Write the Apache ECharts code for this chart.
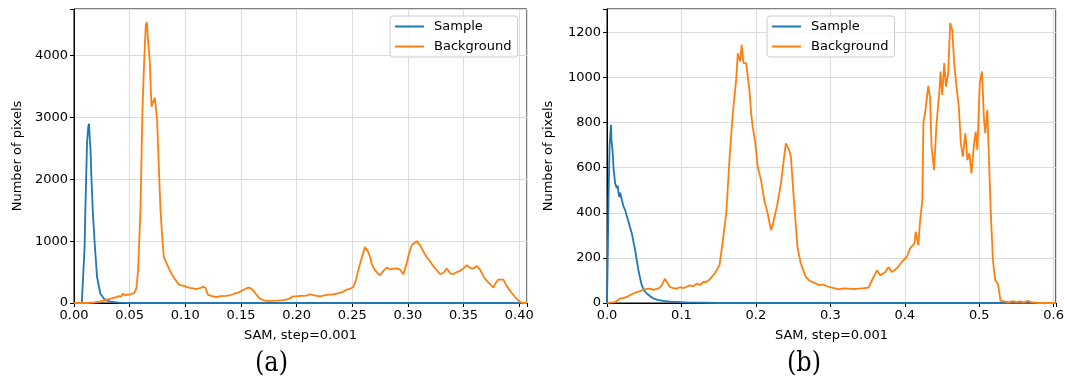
<!DOCTYPE html>
<html>
<head>
<meta charset="utf-8">
<script src="https://cdn.jsdelivr.net/npm/echarts@6/dist/echarts.min.js"></script>
<style>
html,body{margin:0;padding:0;background:#fff;}
#c{width:1067px;height:383px;}
</style>
</head>
<body>
<div id="c"></div>
<script>
// ---------- Data (a) ----------
const aSampleX = [0, 0.007, 0.0081, 0.0095, 0.0102, 0.0117, 0.0128, 0.0135, 0.0142, 0.0148, 0.0156, 0.017, 0.0186, 0.0207, 0.0237, 0.027, 0.029, 0.033, 0.040, 0.050, 0.407];
const aSampleY = [0, 0, 30, 900, 1500, 2590, 2850, 2900, 2650, 2500, 2040, 1450, 960, 420, 150, 70, 44, 20, 5, 0, 0];

const aBgX = [0, 0.012, 0.018, 0.024, 0.030, 0.034, 0.038, 0.040, 0.042, 0.044, 0.046, 0.048, 0.050, 0.052, 0.054, 0.056, 0.0576, 0.0597, 0.0615, 0.063, 0.0645, 0.0655, 0.0665, 0.068, 0.0696, 0.071, 0.0726, 0.0747, 0.076, 0.0777, 0.0795, 0.0807, 0.083, 0.086, 0.089, 0.092, 0.095, 0.098, 0.101, 0.104, 0.107, 0.110, 0.113, 0.116, 0.118, 0.1205, 0.124, 0.128, 0.132, 0.136, 0.140, 0.144, 0.148, 0.152, 0.1565, 0.159, 0.161, 0.164, 0.167, 0.170, 0.173, 0.178, 0.183, 0.188, 0.191, 0.194, 0.197, 0.201, 0.205, 0.209, 0.212, 0.216, 0.221, 0.225, 0.229, 0.233, 0.237, 0.241, 0.245, 0.248, 0.251, 0.2535, 0.2554, 0.258, 0.2614, 0.2625, 0.2644, 0.2659, 0.2674, 0.2704, 0.273, 0.275, 0.278, 0.281, 0.284, 0.2869, 0.290, 0.2929, 0.2959, 0.2989, 0.301, 0.3034, 0.3079, 0.3109, 0.314, 0.3169, 0.320, 0.3229, 0.326, 0.3289, 0.332, 0.3349, 0.338, 0.3408, 0.344, 0.3468, 0.350, 0.3529, 0.356, 0.3588, 0.362, 0.3648, 0.368, 0.3709, 0.374, 0.3768, 0.379, 0.3813, 0.3858, 0.388, 0.3903, 0.393, 0.3963, 0.399, 0.4008, 0.403, 0.407];
const aBgY = [0, 0, 8, 25, 55, 75, 95, 110, 100, 150, 120, 140, 135, 150, 160, 230, 530, 1500, 3120, 3900, 4500, 4540, 4250, 3930, 3175, 3250, 3320, 2960, 2300, 1500, 1000, 745, 650, 530, 430, 350, 290, 280, 260, 245, 235, 225, 240, 260, 250, 130, 110, 97, 110, 115, 125, 150, 170, 210, 249, 235, 205, 130, 71, 45, 33, 35, 38, 45, 55, 75, 108, 110, 115, 120, 141, 125, 108, 125, 135, 141, 155, 175, 217, 230, 260, 380, 530, 700, 907, 880, 826, 745, 638, 530, 480, 449, 520, 573, 545, 557, 560, 541, 465, 638, 800, 935, 1000, 935, 830, 745, 670, 595, 530, 465, 490, 557, 480, 465, 500, 519, 560, 611, 570, 557, 600, 541, 430, 356, 300, 249, 330, 379, 379, 300, 233, 170, 97, 45, 16, 0, 0];

// ---------- Data (b) ----------
const bSampleX = [0, 0.001, 0.002, 0.0035, 0.0053, 0.006, 0.007, 0.008, 0.0089, 0.010, 0.011, 0.013, 0.0145, 0.0155, 0.0165, 0.0175, 0.020, 0.022, 0.0244, 0.027, 0.0289, 0.031, 0.0334, 0.0356, 0.0378, 0.040, 0.0422, 0.0445, 0.0467, 0.050, 0.0534, 0.058, 0.0622, 0.068, 0.0756, 0.085, 0.098, 0.110, 0.130, 0.150, 0.603];
const bSampleY = [0, 200, 456, 700, 790, 720, 693, 650, 590, 560, 530, 510, 520, 486, 470, 490, 456, 430, 412, 380, 360, 335, 308, 270, 234, 190, 145, 110, 79, 55, 42, 30, 20, 14, 9, 6, 4, 2, 1, 0, 0];

const bBgX = [0, 0.005, 0.011, 0.0178, 0.022, 0.0267, 0.031, 0.0355, 0.040, 0.0445, 0.050, 0.0578, 0.062, 0.0689, 0.073, 0.0778, 0.080, 0.0845, 0.089, 0.0935, 0.098, 0.1025, 0.1068, 0.111, 0.116, 0.1202, 0.125, 0.129, 0.1335, 0.138, 0.1446, 0.148, 0.1513, 0.1557, 0.1602, 0.1646, 0.169, 0.1735, 0.1757, 0.1789, 0.181, 0.1833, 0.1869, 0.1913, 0.1936, 0.1957, 0.1993, 0.2024, 0.2069, 0.2113, 0.2158, 0.2203, 0.2225, 0.2247, 0.2291, 0.2336, 0.238, 0.2403, 0.2425, 0.2447, 0.247, 0.2514, 0.2558, 0.2603, 0.267, 0.2715, 0.2758, 0.280, 0.2848, 0.290, 0.2981, 0.305, 0.3115, 0.318, 0.3248, 0.331, 0.3382, 0.345, 0.3515, 0.356, 0.3626, 0.3672, 0.3738, 0.3782, 0.3826, 0.3893, 0.396, 0.4027, 0.4072, 0.413, 0.4147, 0.4183, 0.4206, 0.4236, 0.425, 0.428, 0.4316, 0.4339, 0.436, 0.4393, 0.4427, 0.4463, 0.448, 0.4503, 0.453, 0.4553, 0.4583, 0.461, 0.4637, 0.4664, 0.4694, 0.4726, 0.4753, 0.478, 0.4814, 0.4841, 0.4868, 0.4895, 0.4931, 0.4953, 0.4975, 0.5007, 0.5037, 0.5064, 0.5081, 0.5108, 0.5127, 0.5154, 0.5184, 0.5215, 0.5251, 0.5287, 0.530, 0.535, 0.540, 0.545, 0.550, 0.555, 0.560, 0.565, 0.570, 0.575, 0.580, 0.603];
const bBgY = [0, 2, 4, 20, 22, 27, 35, 42, 48, 53, 60, 64, 58, 64, 75, 108, 95, 71, 66, 64, 70, 66, 71, 78, 74, 86, 80, 92, 93, 105, 131, 150, 170, 280, 397, 640, 842, 990, 1108, 1071, 1145, 1064, 1064, 945, 842, 782, 708, 604, 545, 456, 397, 323, 345, 353, 442, 531, 649, 708, 700, 679, 649, 442, 249, 175, 116, 100, 93, 88, 79, 82, 71, 66, 60, 65, 64, 62, 64, 66, 68, 101, 145, 123, 138, 160, 138, 153, 182, 204, 242, 264, 316, 256, 367, 456, 800, 860, 963, 915, 693, 590, 797, 930, 1027, 923, 1064, 960, 1019, 1242, 1212, 1064, 960, 871, 708, 649, 753, 634, 664, 575, 708, 760, 679, 975, 1027, 812, 753, 856, 679, 412, 190, 101, 86, 9, 2, 6, 3, 8, 4, 7, 3, 9, 4, 2, 0, 0];

const seriesNames = ['Sample', 'Background'];
const xTitle = 'SAM, step=0.001';
const yTitle = 'Number of pixels';
const panelLabels = ['(a)', '(b)'];

function pairs(xs, ys) { return xs.map((x, i) => [x, ys[i]]); }

const BLUE = '#1f77b4', ORANGE = '#ff7f0e';
const FONT = 'DejaVu Sans';

function xAx(gi, max, step, dec) {
  return {
    type: 'value', gridIndex: gi, min: 0, max: max, interval: step,
    name: xTitle, nameLocation: 'middle', nameGap: 26,
    nameTextStyle: {fontFamily: FONT, fontSize: 13, color: '#000'},
    axisLine: {show: true, onZero: false, lineStyle: {color: '#000', width: 1}},
    axisTick: {show: true, length: 4, lineStyle: {color: '#000'}},
    axisLabel: {fontFamily: FONT, fontSize: 13, color: '#000', margin: 6,
      formatter: v => Math.abs(v / step - Math.round(v / step)) < 1e-6 ? v.toFixed(dec) : ''},
    splitLine: {show: true, lineStyle: {color: '#dcdcdc', width: 1}}
  };
}
function yAx(gi, max, step, gap) {
  return {
    type: 'value', gridIndex: gi, min: 0, max: max, interval: step,
    name: yTitle, nameLocation: 'middle', nameGap: gap, nameRotate: 90,
    nameTextStyle: {fontFamily: FONT, fontSize: 13, color: '#000'},
    axisLine: {show: true, lineStyle: {color: '#000', width: 1}},
    axisTick: {show: true, length: 4, lineStyle: {color: '#000'}},
    axisLabel: {fontFamily: FONT, fontSize: 13, color: '#000', margin: 6,
      formatter: v => (v % step === 0) ? String(v) : ''},
    splitLine: {show: true, lineStyle: {color: '#dcdcdc', width: 1}}
  };
}
function line(name, data, color, gi) {
  return {
    type: 'line', name: name, data: data, xAxisIndex: gi, yAxisIndex: gi,
    showSymbol: false, symbol: 'none', animation: false,
    lineStyle: {color: color, width: 1.8}, itemStyle: {color: color}
  };
}
function legend(left) {
  return {
    data: seriesNames, orient: 'vertical', left: left, top: 16,
    icon: 'rect', itemWidth: 29, itemHeight: 2, itemGap: 5,
    padding: [3, 6, 3, 5],
    borderColor: '#cccccc', borderWidth: 1, borderRadius: 3,
    backgroundColor: 'rgba(255,255,255,0.8)',
    textStyle: {fontFamily: FONT, fontSize: 13, color: '#000', padding: [0, 0, 0, 5], lineHeight: 15}
  };
}

const chart = echarts.init(document.getElementById('c'), null, {renderer: 'canvas'});
chart.setOption({
  backgroundColor: '#fff',
  animation: false,
  grid: [
    {left: 74, top: 9, width: 453, height: 294, show: true, borderColor: '#000', borderWidth: 1, backgroundColor: 'transparent'},
    {left: 607, top: 9, width: 451, height: 294, show: true, borderColor: '#000', borderWidth: 1, backgroundColor: 'transparent'}
  ],
  xAxis: [xAx(0, 0.407, 0.05, 2), xAx(1, 0.603, 0.1, 1)],
  yAxis: [yAx(0, 4755, 1000, 50), yAx(1, 1304, 200, 52)],
  legend: [legend(390), legend(767)],
  series: [
    line(seriesNames[0], pairs(aSampleX, aSampleY), BLUE, 0),
    line(seriesNames[1], pairs(aBgX, aBgY), ORANGE, 0),
    line(seriesNames[0], pairs(bSampleX, bSampleY), BLUE, 1),
    line(seriesNames[1], pairs(bBgX, bBgY), ORANGE, 1)
  ],
  graphic: [
    {type: 'text', x: 255, y: 350, scaleY: 1.15, style: {text: panelLabels[0], font: '24px "DejaVu Serif"', fill: '#000', textAlign: 'left', textVerticalAlign: 'top'}},
    {type: 'text', x: 787, y: 350, scaleY: 1.15, style: {text: panelLabels[1], font: '24px "DejaVu Serif"', fill: '#000', textAlign: 'left', textVerticalAlign: 'top'}}
  ]
});
</script>
</body>
</html>
